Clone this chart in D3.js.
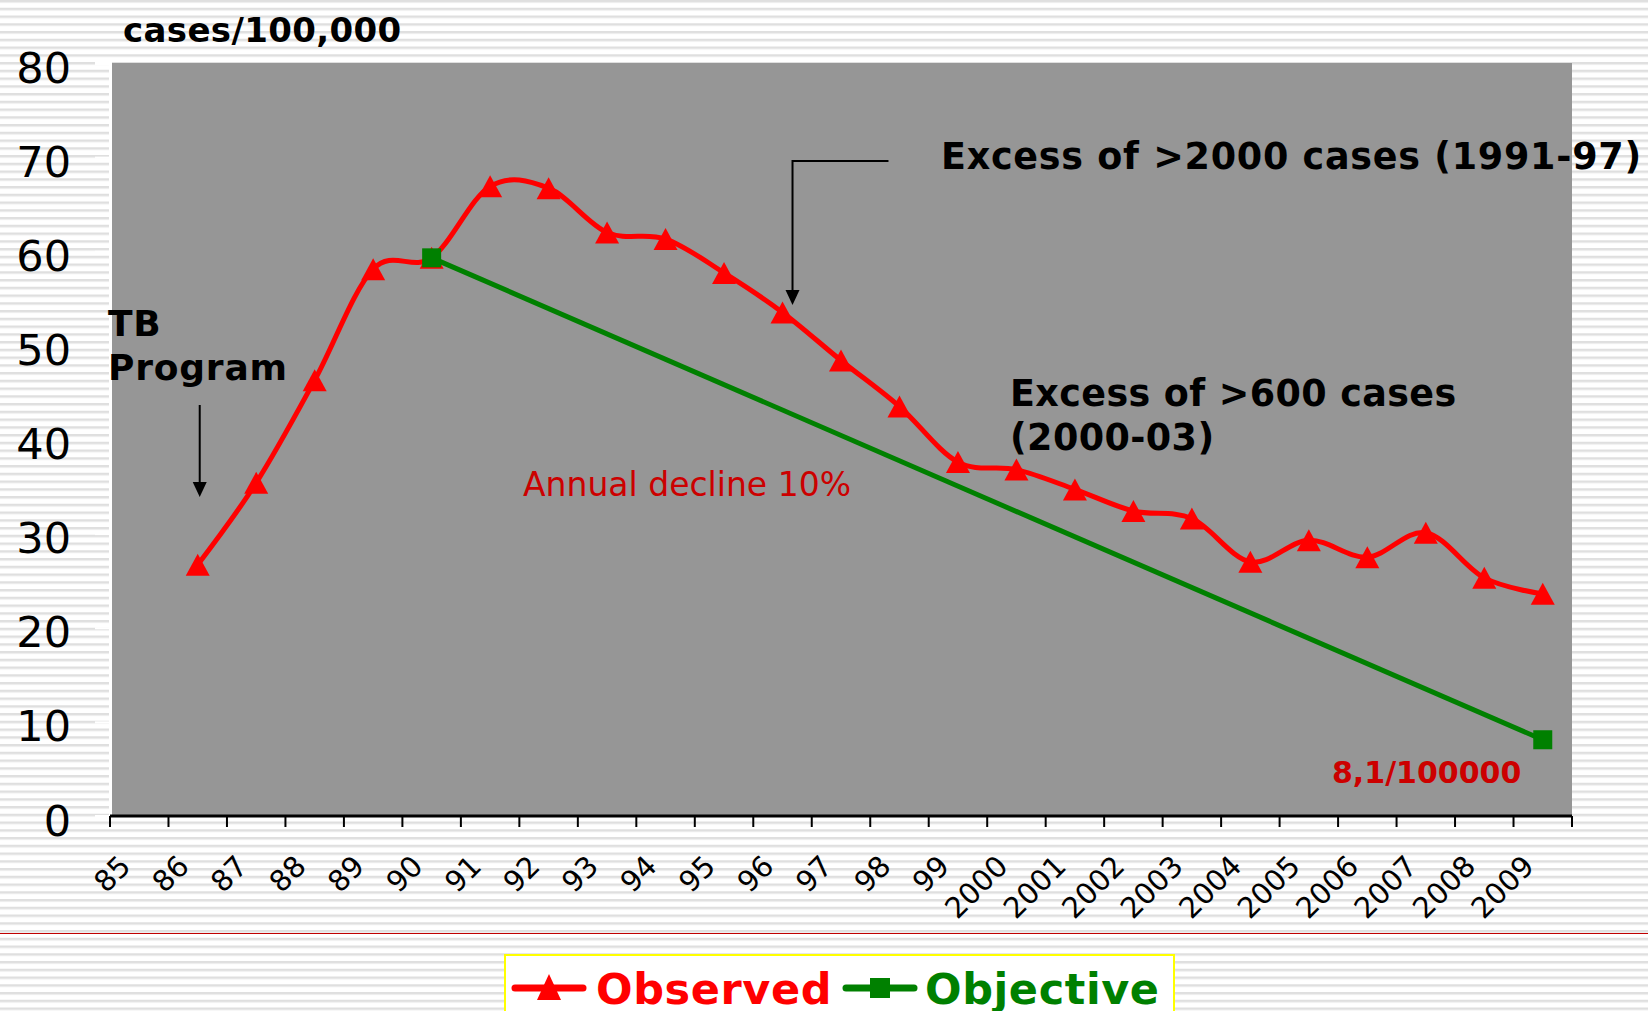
<!DOCTYPE html>
<html>
<head>
<meta charset="utf-8">
<script src="https://cdn.jsdelivr.net/npm/d3@7"></script>
<style>
html,body{margin:0;padding:0;background:#fff;}
svg{display:block;}
text{font-family:"DejaVu Sans",Verdana,sans-serif;}
</style>
</head>
<body>
<svg id="chart" width="1648" height="1011"></svg>
<script>
// ---- data ----
const categories = ["85","86","87","88","89","90","91","92","93","94","95","96","97","98","99",
  "2000","2001","2002","2003","2004","2005","2006","2007","2008","2009"];
const observed = [null, 26.7, 35.4, 46.3, 58.1, 59.3, 66.9, 66.7, 62.0, 61.3, 57.7, 53.5, 48.4,
  43.5, 37.6, 36.8, 34.7, 32.4, 31.6, 27.0, 29.3, 27.5, 30.1, 25.3, 23.6];
const objectiveCats = ["90", "2009"];
const objectiveVals = [59.3, 8.1];
const yTicks = [0, 10, 20, 30, 40, 50, 60, 70, 80];
const seriesNames = ["Observed", "Objective"];

// ---- layout ----
const W = 1648, H = 1011;
const plot = {left: 110, right: 1572, top: 63, bottom: 816};
const RED = "#ff0000", GREEN = "#008000", DARKRED = "#cc0000";

const svg = d3.select("#chart");
const defs = svg.append("defs");
const pat = defs.append("pattern").attr("id", "stripes").attr("patternUnits", "userSpaceOnUse")
  .attr("width", 8).attr("height", 7.75);
pat.append("rect").attr("width", 8).attr("height", 7.75).attr("fill", "#ffffff");
pat.append("rect").attr("y", 0).attr("width", 8).attr("height", 2).attr("fill", "#dfdfdf");
pat.append("rect").attr("y", 2).attr("width", 8).attr("height", 1).attr("fill", "#ececec");

svg.append("rect").attr("width", W).attr("height", H).attr("fill", "url(#stripes)");

const x = d3.scaleBand().domain(categories).range([plot.left, plot.right]).padding(0);
const cx = c => x(c) + x.bandwidth() / 2;
const y = d3.scaleLinear().domain([0, 80]).range([plot.bottom, plot.top]);

// plot area
svg.append("rect").attr("x", plot.left).attr("y", plot.top)
  .attr("width", plot.right - plot.left).attr("height", plot.bottom - plot.top)
  .attr("fill", "#969696");

// y axis (white ticks and line)
const yAxis = svg.append("g").attr("transform", `translate(${plot.left},0)`)
  .call(d3.axisLeft(y).tickValues(yTicks).tickSize(15).tickPadding(24).tickFormat(d3.format("d")));
yAxis.select(".domain").attr("stroke", "#ffffff").attr("stroke-width", 3);
yAxis.selectAll(".tick line").attr("stroke", "#ffffff").attr("stroke-width", 2);
yAxis.selectAll(".tick text").attr("fill", "#000").attr("font-size", 43)
  .attr("font-family", "DejaVu Sans").attr("dy", null).attr("y", 19);

// x axis: line, ticks at category boundaries
const xg = svg.append("g");
xg.append("line").attr("x1", plot.left).attr("x2", plot.right)
  .attr("y1", plot.bottom).attr("y2", plot.bottom).attr("stroke", "#000").attr("stroke-width", 3);
const bounds = categories.map(c => x(c)).concat([x.range()[1]]);
xg.selectAll("line.tk").data(bounds).join("line").attr("class", "tk")
  .attr("x1", d => d).attr("x2", d => d).attr("y1", plot.bottom).attr("y2", plot.bottom + 11)
  .attr("stroke", "#000").attr("stroke-width", 2);
xg.selectAll("text.xl").data(categories).join("text").attr("class", "xl")
  .attr("transform", d => `translate(${cx(d) - 7},${plot.bottom + 52}) rotate(-45)`)
  .attr("text-anchor", "end").attr("font-size", 29).attr("fill", "#000").text(d => d);

// observed line (smoothed)
const obsData = categories.map((c, i) => ({c, v: observed[i]})).filter(d => d.v != null);
const line = d3.line().x(d => cx(d.c)).y(d => y(d.v)).curve(d3.curveCardinal.tension(0));
svg.append("path").datum(obsData).attr("d", line).attr("fill", "none")
  .attr("stroke", RED).attr("stroke-width", 5).attr("stroke-linejoin", "round");
const tri = (w, h) => `M0,${-h / 2}L${w / 2},${h / 2}L${-w / 2},${h / 2}Z`;
svg.selectAll("path.tri").data(obsData).join("path").attr("class", "tri")
  .attr("transform", d => `translate(${cx(d.c)},${y(d.v)})`)
  .attr("d", tri(24, 22)).attr("fill", RED);

// objective line
const objData = objectiveCats.map((c, i) => ({c, v: objectiveVals[i]}));
svg.append("path").datum(objData).attr("d", d3.line().x(d => cx(d.c)).y(d => y(d.v)))
  .attr("fill", "none").attr("stroke", GREEN).attr("stroke-width", 5);
svg.selectAll("rect.sq").data(objData).join("rect").attr("class", "sq")
  .attr("x", d => cx(d.c) - 9.5).attr("y", d => y(d.v) - 9.5)
  .attr("width", 19).attr("height", 19).attr("fill", GREEN);

// ---- annotations ----
svg.append("text").attr("x", 123).attr("y", 42).attr("font-size", 34).attr("font-weight", "bold")
  .attr("letter-spacing", 0.35).attr("fill", "#000").text("cases/100,000");

svg.append("text").attr("x", 108).attr("y", 336).attr("font-size", 36).attr("font-weight", "bold")
  .attr("letter-spacing", 0.8).text("TB");
svg.append("text").attr("x", 108).attr("y", 380).attr("font-size", 36).attr("font-weight", "bold")
  .attr("letter-spacing", 0.8).text("Program");

function arrowHead(px, py) {
  svg.append("path").attr("d", `M${px},${py}L${px - 7},${py - 15}L${px + 7},${py - 15}Z`).attr("fill", "#000");
}
// TB program arrow
const tbX = cx("86") + 2;
svg.append("line").attr("x1", tbX).attr("x2", tbX).attr("y1", 405).attr("y2", 485)
  .attr("stroke", "#000").attr("stroke-width", 2);
arrowHead(tbX, 497);

// Excess arrow
const exX = cx("96") + 10;
svg.append("path").attr("d", `M${cx("98") - 11},161H${exX}V292`).attr("fill", "none")
  .attr("stroke", "#000").attr("stroke-width", 2);
arrowHead(exX, 305);

svg.append("text").attr("x", 941).attr("y", 169).attr("font-size", 36.5).attr("font-weight", "bold")
  .attr("letter-spacing", 0.75).text("Excess of >2000 cases (1991-97)");
svg.append("text").attr("x", 1010).attr("y", 406).attr("font-size", 36.5).attr("font-weight", "bold")
  .attr("letter-spacing", 0.4).text("Excess of >600 cases");
svg.append("text").attr("x", 1010).attr("y", 450).attr("font-size", 36.5).attr("font-weight", "bold")
  .attr("letter-spacing", 0.4).text("(2000-03)");

svg.append("text").attr("x", 523).attr("y", 496).attr("font-size", 33).attr("fill", DARKRED)
  .text("Annual decline 10%");
svg.append("text").attr("x", 1332).attr("y", 783).attr("font-size", 30).attr("font-weight", "bold")
  .attr("fill", DARKRED).text("8,1/100000");

// separator
svg.append("line").attr("x1", 0).attr("x2", W).attr("y1", 933.5).attr("y2", 933.5)
  .attr("stroke", "#c00000").attr("stroke-width", 1);

// ---- legend ----
const lg = svg.append("g");
lg.append("rect").attr("x", 505).attr("y", 955).attr("width", 669).attr("height", 80)
  .attr("fill", "#fff").attr("stroke", "#ffff00").attr("stroke-width", 2);
const legendItems = [
  {name: seriesNames[0], color: RED, x0: 515, tx: 596, marker: "tri"},
  {name: seriesNames[1], color: GREEN, x0: 846, tx: 925, marker: "sq"}
];
legendItems.forEach(it => {
  lg.append("line").attr("x1", it.x0).attr("x2", it.x0 + 68).attr("y1", 988).attr("y2", 988)
    .attr("stroke", it.color).attr("stroke-width", 7).attr("stroke-linecap", "round");
  if (it.marker === "tri") {
    lg.append("path").attr("transform", `translate(${it.x0 + 34},987)`).attr("d", tri(24, 26)).attr("fill", it.color);
  } else {
    lg.append("rect").attr("x", it.x0 + 34 - 10).attr("y", 978).attr("width", 20).attr("height", 20).attr("fill", it.color);
  }
  lg.append("text").attr("x", it.tx).attr("y", 1004).attr("font-size", 43).attr("font-weight", "bold")
    .attr("letter-spacing", 0.6).attr("fill", it.color).text(it.name);
});
</script>
</body>
</html>
